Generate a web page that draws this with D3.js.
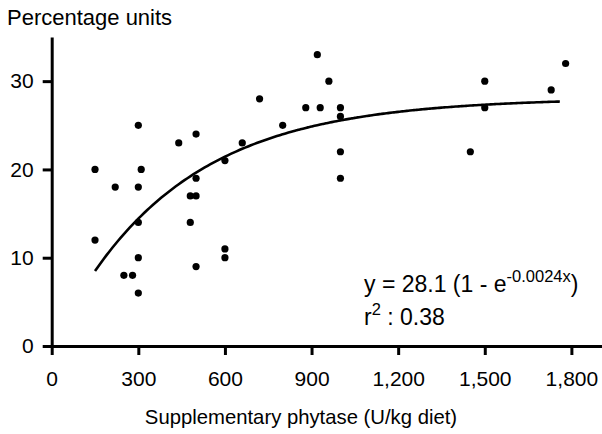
<!DOCTYPE html>
<html>
<head>
<meta charset="utf-8">
<script src="https://cdn.jsdelivr.net/npm/d3@7"></script>
<style>
  body { margin: 0; background: #fff; }
  svg text { font-family: "Liberation Sans", Arial, sans-serif; fill: #000; }
</style>
</head>
<body>
<svg class="chart" width="602" height="434"></svg>
<script>
// phytase dose (U/kg diet) and response (percentage units)
var doses = [150, 150, 220, 250, 280, 300, 300, 300, 300, 300, 310,
             440, 480, 480, 500, 500, 500, 500, 600, 600, 600, 660,
             720, 800, 880, 920, 930, 960, 1000, 1000, 1000, 1000,
             1450, 1500, 1500, 1730, 1780];
var responses = [20, 12, 18, 8, 8, 25, 18, 14, 10, 6, 20,
                 23, 17, 14, 24, 19, 17, 9, 21, 11, 10, 23,
                 28, 25, 27, 33, 27, 30, 27, 26, 22, 19,
                 22, 30, 27, 29, 32];
var xTicks = [0, 300, 600, 900, 1200, 1500, 1800];
var yTicks = [0, 10, 20, 30];
// fitted model y = a (1 - e^(-b x)), drawn over the dose range
var fitA = 28.1, fitB = 0.0024;
var fitFrom = 150, fitTo = 1760;

function drawChart(){
  var svg = d3.select("svg.chart");

  var x = d3.scaleLinear().domain([0, 1906]).range([51.7, 602]),
      y = d3.scaleLinear().domain([0, 35]).range([346, 37]);

  var xAxis = svg.append("g")
      .attr("transform", "translate(0," + y(0) + ")")
      .call(d3.axisBottom(x).tickValues(xTicks).tickFormat(d3.format(",")).tickSize(9).tickSizeOuter(0).tickPadding(16));

  var yAxis = svg.append("g")
      .attr("transform", "translate(" + x(0) + ",0)")
      .call(d3.axisLeft(y).tickValues(yTicks).tickSize(9).tickSizeOuter(0).tickPadding(9));

  [xAxis, yAxis].forEach(function(ax){
    ax.select(".domain").attr("stroke", "#000").attr("stroke-width", 3);
    ax.selectAll(".tick line").attr("stroke", "#000").attr("stroke-width", 3);
    ax.selectAll(".tick text").attr("font-size", 21).attr("fill", "#000")
      .style("font-family", "'Liberation Sans', Arial, sans-serif");
  });

  // fitted curve
  var fitPts = d3.range(fitFrom, fitTo + 1, 10).map(function(d){
    return [d, fitA * (1 - Math.exp(-fitB * d))];
  });
  var line = d3.line()
      .x(function(d){ return x(d[0]); })
      .y(function(d){ return y(d[1]); })
      .curve(d3.curveMonotoneX);
  svg.append("path")
      .datum(fitPts)
      .attr("d", line)
      .attr("fill", "none")
      .attr("stroke", "#000")
      .attr("stroke-width", 2.6);

  svg.append("g").selectAll("circle")
      .data(doses)
      .enter().append("circle")
      .attr("cx", function(d){ return x(d); })
      .attr("cy", function(d, i){ return y(responses[i]); })
      .attr("r", 3.6)
      .attr("fill", "#000");

  svg.append("text")
      .attr("x", 7).attr("y", 25)
      .attr("font-size", 22)
      .text("Percentage units");

  svg.append("text")
      .attr("x", 301).attr("y", 424)
      .attr("text-anchor", "middle")
      .attr("font-size", 20.3)
      .text("Supplementary phytase (U/kg diet)");

  var eq = svg.append("text").attr("x", 364).attr("y", 292).attr("font-size", 23);
  eq.append("tspan").text("y = 28.1 (1 - e");
  eq.append("tspan").attr("dy", -10).attr("font-size", 16.5).text("-0.0024x");
  eq.append("tspan").attr("dy", 10).text(")");

  var r2 = svg.append("text").attr("x", 364).attr("y", 325).attr("font-size", 23);
  r2.append("tspan").text("r");
  r2.append("tspan").attr("dy", -10).attr("font-size", 16.5).text("2");
  r2.append("tspan").attr("dy", 10).text(" : 0.38");
}

drawChart();
</script>
</body>
</html>
